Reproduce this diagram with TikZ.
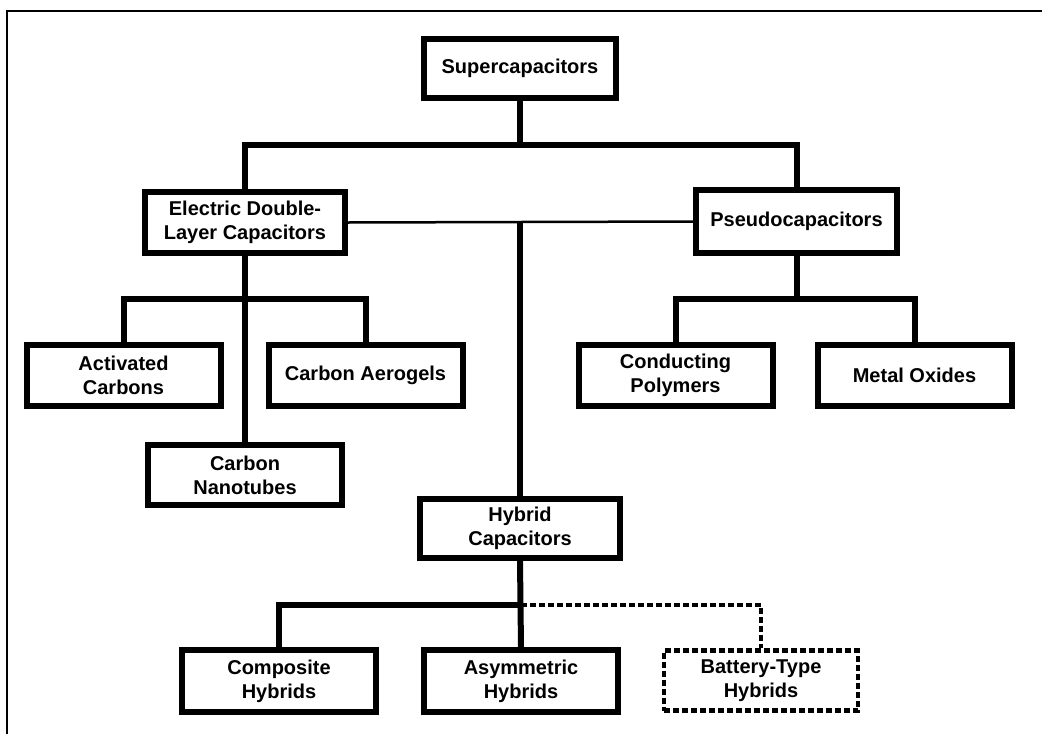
\documentclass[tikz,border=0pt]{standalone}
\usepackage{fontspec}
\setmainfont{Liberation Sans}
\tikzset{>=latex}
\tikzset{
  box/.style={draw,line width=6pt,minimum width=194pt,minimum height=61pt,
    align=center,inner sep=2pt,font=\fontsize{20}{24}\selectfont\bfseries},
  dashbox/.style={box,line width=4.5pt,dash pattern=on 6pt off 3pt},
  conn/.style={line width=6pt,line join=miter},
  thinconn/.style={line width=2.5pt},
  dashconn/.style={line width=4.5pt,dash pattern=on 6pt off 3pt}
}
\newcommand{\barA}{145}
\newcommand{\barB}{299}
\newcommand{\barC}{605}

\begin{document}
\begin{tikzpicture}[x=1pt,y=-1pt]
  \useasboundingbox (0,0) rectangle (1042,734);
  % frame
  \draw[line width=2pt] (6.5,734) |- (1042,10.5);
  % boxes
  \node[box,minimum width=192pt,minimum height=59pt] (super) at (520,68.5) {Supercapacitors};
  \node[box,minimum width=200pt] (edlc)   at (245,222.5) {Electric Double-\\Layer Capacitors};
  \node[box,minimum width=201pt,minimum height=63pt] (pseudo) at (796.5,221.5) {Pseudocapacitors};
  \node[box] (act)    at (123.5,375.5) {Activated\\Carbons};
  \node[box] (aero)   at (365.5,375.5) {Carbon Aerogels};
  \node[box,minimum height=60pt] (nano) at (245,475) {Carbon\\Nanotubes};
  \node[box] (cond)   at (675.5,375.5) {Conducting\\Polymers};
  \node[box] (metal)  at (914.5,375.5) {Metal Oxides};
  \node[box,minimum width=200pt,minimum height=59pt] (hybrid) at (520,528.5) {Hybrid\\Capacitors};
  \node[box,minimum height=62pt] (comp) at (279,681) {Composite\\Hybrids};
  \node[box,minimum height=62pt] (asym) at (521,681) {Asymmetric\\Hybrids};
  \node[dashbox,minimum height=60pt] (batt) at (761,680.5) {Battery-Type\\Hybrids};
  % top level
  \draw[conn] (super.south) -- (super.south |- 0,\barA);
  \draw[conn] (edlc.north) |- (pseudo.north |- 0,\barA) -- (pseudo.north);
  \draw[thinconn] (edlc.east) -- (pseudo.west);
  \draw[conn] (hybrid.north |- edlc.east) -- (hybrid.north);
  % EDLC branch
  \draw[conn] (edlc.south) -- (nano.north);
  \draw[conn] (act.north) |- (aero.north |- 0,\barB) -- (aero.north);
  % pseudo branch
  \draw[conn] (pseudo.south) -- (pseudo.south |- 0,\barB);
  \draw[conn] (cond.north) |- (metal.north |- 0,\barB) -- (metal.north);
  % hybrid branch
  \draw[conn] (hybrid.south) -- (asym.north);
  \draw[conn] (comp.north) |- (asym.north |- 0,\barC);
  \draw[dashconn] (asym.north |- 0,\barC) -| (batt.north);
\end{tikzpicture}
\end{document}
